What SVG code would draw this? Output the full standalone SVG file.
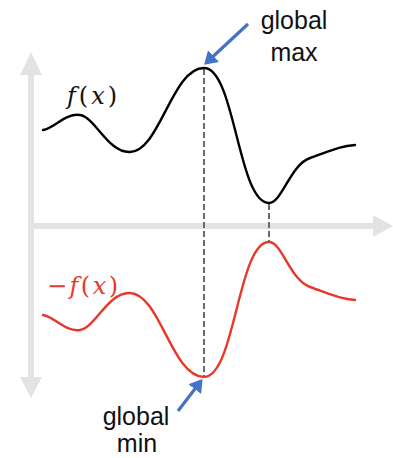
<svg xmlns="http://www.w3.org/2000/svg" width="393" height="458" viewBox="0 0 393 458">
<style>
.axis{stroke:#e3e3e3;stroke-width:6;fill:none}
.head{fill:#e3e3e3}
.dash{stroke:#6a6a6a;stroke-width:2;stroke-dasharray:6,3;fill:none}
.curve{fill:none;stroke-width:2.4;stroke-linecap:round;stroke-linejoin:round}
.lbl{font-family:"Liberation Sans",Arial,sans-serif;font-size:25px;fill:#111;text-anchor:middle}
.math{font-family:"DejaVu Serif","Liberation Serif",serif;font-size:24px}
.blue{stroke:#4472c4;stroke-width:3.2;fill:none}
</style>
<defs>
<marker id="bh" markerWidth="5" markerHeight="5" refX="3.2" refY="2.5" orient="auto" markerUnits="strokeWidth">
<path d="M0,0 L4,2.5 L0,5 Z" fill="#4472c4"/>
</marker>
</defs>
<g id="axes">
<line class="axis" x1="31" y1="72" x2="31" y2="382"/>
<line class="axis" x1="28" y1="226" x2="376" y2="226"/>
<path class="head" d="M31,52 L42,75 L20,75 Z"/>
<path class="head" d="M31,398 L42,377 L20,377 Z"/>
<path class="head" d="M393,226 L373,215 L373,237 Z"/>
</g>
<g id="connectors">
<line class="dash" x1="204" y1="69" x2="204" y2="376"/>
<line class="dash" x1="269" y1="204" x2="269" y2="243"/>
<line class="blue" x1="248" y1="24" x2="206" y2="63" marker-end="url(#bh)"/>
<line class="blue" x1="178" y1="411" x2="201" y2="381" marker-end="url(#bh)"/>
</g>
<g id="f">
<path class="curve" stroke="#000" d="M43,130 C55,128 65,113 80,115 C95,117 108,153 130,152 C160,151 172,68 204,68 C235,68 238,203 269,203 C282,203 290,165 310,158 C330,151 340,146 355,145"/>
<text class="math" x="67" y="104" fill="#111" textLength="50" lengthAdjust="spacing"><tspan font-style="italic">f</tspan>(<tspan font-style="italic">x</tspan>)</text>
</g>
<g id="negf">
<path class="curve" stroke="#e8382a" transform="matrix(1 0 0 -1 0 445)" d="M43,130 C55,128 65,113 80,115 C95,117 108,153 130,152 C160,151 172,68 204,68 C235,68 238,203 269,203 C282,203 290,165 310,158 C330,151 340,146 355,145"/>
<text class="math" x="47" y="294" fill="#e8382a" textLength="71" lengthAdjust="spacing">−<tspan font-style="italic">f</tspan>(<tspan font-style="italic">x</tspan>)</text>
</g>
<g id="globalmax">
<text class="lbl" x="294" y="29">global</text>
<text class="lbl" x="294" y="61">max</text>
</g>
<g id="globalmin">
<text class="lbl" x="136" y="425">global</text>
<text class="lbl" x="137" y="452">min</text>
</g>
</svg>
